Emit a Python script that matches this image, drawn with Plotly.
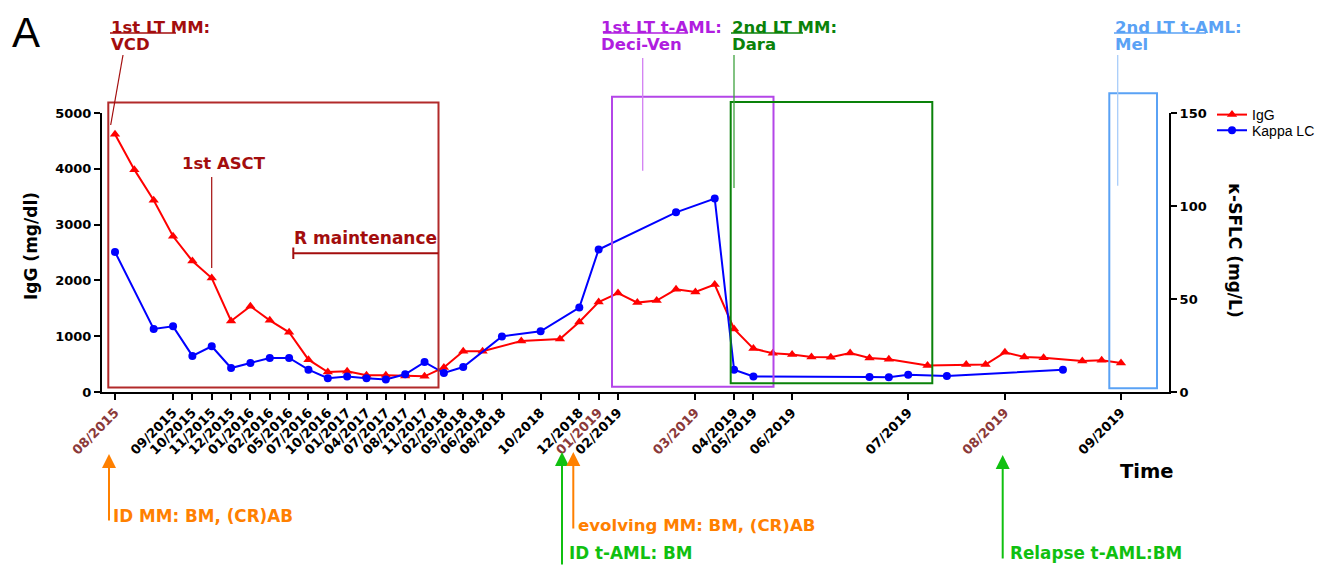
import plotly.graph_objects as go

# ---------------- data ----------------
igg_x = [0, 1, 2, 3, 4, 5, 6, 7, 8, 9, 10, 11, 12, 13, 14, 15, 16, 17, 18, 19, 21, 23, 24, 25,
         26, 27, 28, 29, 30, 31, 32, 33, 34, 35, 36, 37, 38, 39, 40, 42, 44, 45, 46, 47, 48, 50, 51, 52]
igg_values = [4620, 3985, 3435, 2790, 2348, 2043, 1272, 1536, 1285, 1070, 580, 358, 371, 299, 299, 287,
              281, 440, 729, 729, 914, 950, 1254, 1613, 1774, 1602, 1638, 1841, 1792, 1925, 1129, 778,
              694, 670, 627, 622, 699, 609, 586, 473, 491, 491, 711, 627, 616, 556, 568, 520]

kappa_x = [0, 2, 3, 4, 5, 6, 7, 8, 9, 10, 11, 12, 13, 14, 15, 16, 17, 18, 20, 22, 24, 25, 29, 31,
           32, 33, 39, 40, 41, 43, 49]
kappa_values = [75.3, 33.9, 35.3, 19.4, 24.6, 12.9, 15.6, 18.3, 18.3, 12.0, 7.4, 8.4, 7.4, 6.7, 9.5,
                16.1, 10.2, 13.4, 29.9, 32.6, 45.4, 76.6, 96.6, 104.0, 12.0, 8.4, 8.1, 7.9, 9.3, 8.6, 12.0]

tick_pos = [0, 3, 4, 5, 6, 7, 8, 9, 10, 11, 12, 13, 14, 15, 16, 17, 18, 19, 20, 22, 24, 25, 26,
            30, 32, 33, 35, 41, 46, 52]
tick_labels = ["08/2015", "09/2015", "10/2015", "11/2015", "12/2015", "01/2016", "02/2016", "05/2016",
               "07/2016", "10/2016", "01/2017", "04/2017", "07/2017", "08/2017", "11/2017", "02/2018",
               "05/2018", "06/2018", "08/2018", "10/2018", "12/2018", "01/2019", "02/2019", "03/2019",
               "04/2019", "05/2019", "06/2019", "07/2019", "08/2019", "09/2019"]
highlight_labels = ["08/2015", "01/2019", "03/2019", "08/2019"]

# ---------------- layout geometry ----------------
OFF = 8                       # page body margin
W, H = 1332 - OFF, 566 - OFF
ML, MR, MT, MB = 94, 163, 105, 174
PW, PH = W - ML - MR, H - MT - MB
X0 = 115.0 - OFF              # pixel of first time point inside figure
STEP = 19.346                 # pixels per time step
x_range = [(ML - X0) / STEP, (ML - X0) / STEP + PW / STEP]


def px(x):
    """screen x pixel -> paper"""
    return (x - OFF - ML) / PW


def py(y):
    """screen y pixel -> paper"""
    return (H - MB - (y - OFF)) / PH


FONT = "DejaVu Sans"
BROWN = "#8B3A3A"
DRED = "#a30d0d"
BOXRED = "#b22a2a"
PURPLE = "#b01ee0"
PURPLE_BOX = "#b446e8"
GREEN = "#0a820a"
LBLUE = "#5aa2f5"
ORANGE = "#ff8000"
BGREEN = "#10c010"

ticktext = [f"<span style='color:{BROWN}'>{t}</span>" if t in highlight_labels else t
            for t in tick_labels]

fig = go.Figure()
fig.add_trace(go.Scatter(
    x=igg_x, y=igg_values, name="IgG", mode="lines+markers", legend="legend",
    line=dict(color="#ff0000", width=2),
    marker=dict(symbol="triangle-up", size=9, color="#ff0000"),
))
fig.add_trace(go.Scatter(
    x=kappa_x, y=kappa_values, name="Kappa LC", mode="lines+markers", yaxis="y2", legend="legend2",
    line=dict(color="#0000ff", width=2),
    marker=dict(symbol="circle", size=8, color="#0000ff"),
))

shapes = []


def box(x0, x1, y0, y1, color, width=2):
    shapes.append(dict(type="rect", xref="paper", yref="paper",
                       x0=px(x0), x1=px(x1), y0=py(y1), y1=py(y0),
                       line=dict(color=color, width=width), fillcolor="rgba(0,0,0,0)"))


def seg(x0, y0, x1, y1, color, width=1.3):
    shapes.append(dict(type="line", xref="paper", yref="paper",
                       x0=px(x0), y0=py(y0), x1=px(x1), y1=py(y1),
                       line=dict(color=color, width=width)))


# treatment boxes
box(108.3, 438.5, 102.5, 387.5, BOXRED)
box(612, 773.5, 96.7, 386.7, PURPLE_BOX)
box(730.7, 932.3, 102, 383.3, GREEN)
box(1109.3, 1157, 93.3, 388.3, LBLUE)

# leader lines & underlines
seg(123, 55, 110.7, 125, DRED, 1.2)
seg(110, 33, 176, 33, DRED, 1.5)
seg(211.7, 177, 211.7, 268, DRED, 1.2)
seg(293.3, 253.3, 438.3, 253.3, DRED, 2)
seg(293.3, 247.5, 293.3, 259, DRED, 2)
seg(603, 33, 688, 33, PURPLE, 1.5)
seg(642.7, 58, 642.7, 170.7, "#d27ff2", 1.3)
seg(731, 33, 803, 33, GREEN, 1.5)
seg(734, 55, 734, 188, "#3fa23f", 1.3)
seg(1114, 33, 1206, 33, LBLUE, 1.5)
seg(1117.7, 55, 1117.7, 185.7, "#a8cdfa", 1.3)

annotations = []


def label(text, x, y, color, size=16.5, bold=True, family=FONT, xanchor="left", angle=0):
    annotations.append(dict(
        text=text, xref="paper", yref="paper", x=px(x), y=py(y),
        xanchor=xanchor, yanchor="middle", showarrow=False, textangle=angle,
        font=dict(family=family, size=size, color=color, weight="bold" if bold else "normal"),
    ))


def arrow(x, y_tip, y_tail, color):
    annotations.append(dict(
        text="", xref="paper", yref="paper", x=px(x), y=py(y_tip),
        ax=0, ay=y_tail - y_tip, axref="pixel", ayref="pixel",
        showarrow=True, arrowhead=2, arrowsize=1.4, arrowwidth=2, arrowcolor=color, standoff=0,
    ))


label("A", 10, 32, "black", size=42, bold=False, family="Liberation Sans")
label("1st LT MM:", 109, 27, DRED)
label("VCD", 109, 44.5, DRED)
label("1st ASCT", 180, 163, DRED)
label("R maintenance", 292, 238, DRED, size=17)
label("1st LT t-AML:", 599, 27, PURPLE)
label("Deci-Ven", 599, 44.5, PURPLE)
label("2nd LT MM:", 730, 27, GREEN)
label("Dara", 730, 44.5, GREEN)
label("2nd LT t-AML:", 1113, 27, LBLUE)
label("Mel", 1113, 44.5, LBLUE)

label("Time", 1146.5, 471.5, "black", size=19.5, xanchor="center")
label("IgG (mg/dl)", 31, 246, "black", size=17, xanchor="center", angle=-90)
label("κ-SFLC (mg/L)", 1235, 250, "black", size=17, xanchor="center", angle=90)

arrow(109, 454, 522, ORANGE)
label("ID MM: BM, (CR)AB", 111, 516, ORANGE, size=16.8)
arrow(562, 452, 566, BGREEN)
label("ID t-AML: BM", 567, 553, BGREEN, size=16.8)
arrow(573.3, 452, 530, ORANGE)
label("evolving MM: BM, (CR)AB", 576, 525, ORANGE, size=16.6)
arrow(1002.7, 455, 560, BGREEN)
label("Relapse t-AML:BM", 1008, 553, BGREEN, size=16.8)

axis_common = dict(
    showline=True, linecolor="black", linewidth=2, ticks="outside", ticklen=6, tickwidth=2,
    tickcolor="black", showgrid=False, zeroline=False,
    tickfont=dict(family=FONT, size=13, color="black", weight="bold"),
)

legend_common = dict(xanchor="left", yanchor="middle", bgcolor="rgba(0,0,0,0)",
                     font=dict(family="Liberation Sans", size=14, color="black"),
                     itemwidth=30, borderwidth=0)

fig.update_layout(
    width=W, height=H, margin=dict(l=ML, r=MR, t=MT, b=MB, autoexpand=False),
    plot_bgcolor="white", paper_bgcolor="white",
    xaxis=dict(range=x_range, tickmode="array", tickvals=tick_pos, ticktext=ticktext,
               tickangle=-45, **axis_common),
    yaxis=dict(range=[0, 5000], tickmode="array", tickvals=[0, 1000, 2000, 3000, 4000, 5000],
               **axis_common),
    yaxis2=dict(range=[0, 150], overlaying="y", side="right", tickmode="array",
                tickvals=[0, 50, 100, 150], **axis_common),
    legend=dict(x=px(1212), y=py(115), **legend_common),
    legend2=dict(x=px(1212), y=py(130.7), **legend_common),
    showlegend=True,
    shapes=shapes,
    annotations=annotations,
)

fig.write_html("out.html")
